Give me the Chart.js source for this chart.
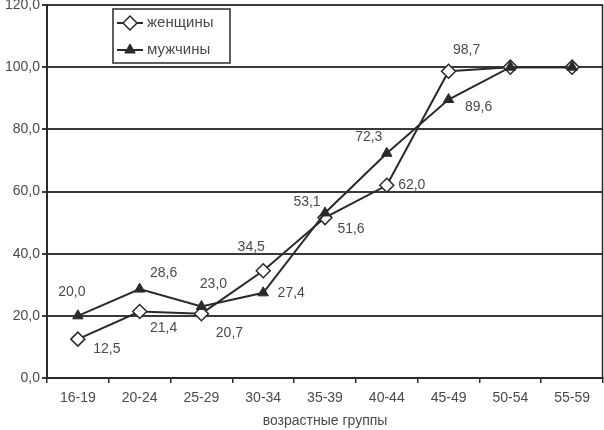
<!DOCTYPE html>
<html>
<head>
<meta charset="utf-8">
<script src="https://cdn.jsdelivr.net/npm/chart.js@4/dist/chart.umd.min.js"></script>
<style>
  html, body { margin: 0; padding: 0; background: #fff; }
  #wrap { width: 604px; height: 430px; }
</style>
</head>
<body>
<div id="wrap"><canvas id="chart" width="604" height="430"></canvas></div>
<script>
// данные
const groups = ["16-19", "20-24", "25-29", "30-34", "35-39", "40-44", "45-49", "50-54", "55-59"];
const women = [12.5, 21.4, 20.7, 34.5, 51.6, 62.0, 98.7, 100, 100];
const men = [20.0, 28.6, 23.0, 27.4, 53.1, 72.3, 89.6, 100, 100];
const yTicks = [0, 20, 40, 60, 80, 100, 120];

// смещения подписей (px), null = без подписи
const womenLabelOffsets = [[29, 10], [24, 17], [28, 19], [-12, -24], [26, 12], [25, 0], [18, -21], null, null];
const menLabelOffsets = [[-6, -24], [24, -16], [12, -22], [28, 0], [-18, -11], [-18, -16], [30, 8], null, null];

const fmt = v => v.toFixed(1).replace('.', ',');
const ink = '#2a2a2a';
const textColor = '#4a4a4a';
const fontFamily = 'Arial, "Liberation Sans", sans-serif';

/**
 * Подписи значений рядом с точками
 */
const valueLabels = {
    id: 'valueLabels',
    afterDatasetsDraw(chart) {
        const ctx = chart.ctx;
        ctx.save();
        ctx.font = '14px ' + fontFamily;
        ctx.fillStyle = textColor;
        ctx.textAlign = 'center';
        ctx.textBaseline = 'middle';
        chart.data.datasets.forEach((ds, i) => {
            const meta = chart.getDatasetMeta(i);
            meta.data.forEach((pt, j) => {
                const off = ds.labelOffsets[j];
                if (!off) return;
                ctx.fillText(fmt(ds.data[j]), pt.x + off[0], pt.y + off[1]);
            });
        });
        ctx.restore();
    }
};

/**
 * Рамка справа и легенда в рамке
 */
const frameAndLegend = {
    id: 'frameAndLegend',
    afterDraw(chart) {
        const ctx = chart.ctx;
        const a = chart.chartArea;
        ctx.save();
        ctx.strokeStyle = ink;
        ctx.lineWidth = 1.5;
        ctx.beginPath();
        ctx.moveTo(a.right - 0.5, a.top);
        ctx.lineTo(a.right - 0.5, a.bottom);
        ctx.stroke();

        // легенда
        const bx = 113, by = 9, bw = 117, bh = 54;
        ctx.fillStyle = '#fff';
        ctx.fillRect(bx, by, bw, bh);
        ctx.strokeStyle = ink;
        ctx.lineWidth = 1.5;
        ctx.strokeRect(bx, by, bw, bh);

        chart.data.datasets.forEach((ds, i) => {
            const y = by + 14 + i * 27;
            ctx.strokeStyle = ink;
            ctx.lineWidth = 2;
            ctx.beginPath();
            ctx.moveTo(bx + 4, y);
            ctx.lineTo(bx + 30, y);
            ctx.stroke();
            ctx.fillStyle = ds.pointBackgroundColor;
            ctx.strokeStyle = ds.pointBorderColor;
            ctx.lineWidth = ds.pointBorderWidth;
            Chart.helpers.drawPoint(ctx, {
                pointStyle: ds.pointStyle,
                radius: ds.pointRadius,
                borderWidth: ds.pointBorderWidth
            }, bx + 17, y);
            ctx.fillStyle = textColor;
            ctx.font = '15px ' + fontFamily;
            ctx.textAlign = 'left';
            ctx.textBaseline = 'middle';
            ctx.fillText(ds.label, bx + 34, y);
        });
        ctx.restore();
    }
};

new Chart(document.getElementById('chart'), {
    type: 'line',
    data: {
        labels: groups,
        datasets: [{
            label: 'женщины',
            data: women,
            labelOffsets: womenLabelOffsets,
            order: 1,
            borderColor: ink,
            borderWidth: 2,
            pointStyle: 'rectRot',
            pointRadius: 7,
            pointBackgroundColor: '#fff',
            pointBorderColor: ink,
            pointBorderWidth: 1.5,
            tension: 0
        }, {
            label: 'мужчины',
            data: men,
            labelOffsets: menLabelOffsets,
            order: 0,
            borderColor: ink,
            borderWidth: 2,
            pointStyle: 'triangle',
            pointRadius: 6,
            pointBackgroundColor: ink,
            pointBorderColor: ink,
            pointBorderWidth: 1,
            tension: 0
        }]
    },
    options: {
        responsive: false,
        animation: false,
        layout: { autoPadding: false, padding: { top: 5, right: 1, left: 0, bottom: 0 } },
        plugins: {
            legend: { display: false },
            tooltip: { enabled: false }
        },
        scales: {
            x: {
                offset: true,
                grid: { offset: true, drawOnChartArea: false, drawTicks: true, tickLength: 5, color: ink, lineWidth: 1.5 },
                border: { color: ink, width: 2 },
                ticks: { color: textColor, font: { family: fontFamily, size: 14 }, padding: 7 },
                title: { display: true, text: 'возрастные группы', color: textColor, font: { family: fontFamily, size: 14 }, padding: { top: 0, bottom: 0 } },
                afterFit: s => { s.height = 52; s.paddingLeft = 0; s.paddingRight = 0; }
            },
            y: {
                min: 0,
                max: 120,
                afterBuildTicks: s => { s.ticks = yTicks.map(v => ({ value: v })); },
                grid: { color: '#3a3a3a', lineWidth: 2, tickLength: 5 },
                border: { color: ink, width: 2 },
                ticks: { color: textColor, font: { family: fontFamily, size: 14 }, padding: 2, callback: v => fmt(v) },
                afterFit: s => { s.width = 47; s.paddingTop = 0; s.paddingBottom = 0; }
            }
        }
    },
    plugins: [valueLabels, frameAndLegend]
});
</script>
</body>
</html>
